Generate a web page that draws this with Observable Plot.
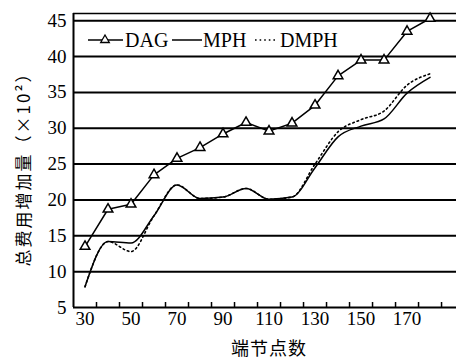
<!DOCTYPE html>
<html>
<head>
<meta charset="utf-8">
<script src="https://cdn.jsdelivr.net/npm/d3@7"></script>
<script src="https://cdn.jsdelivr.net/npm/@observablehq/plot@0.6"></script>
<style>
  html, body { margin: 0; padding: 0; background: #fff; }
  #wrap { position: relative; width: 456px; height: 359px; overflow: hidden; }
  #wrap svg.ov { position: absolute; left: 0; top: 0; }
</style>
</head>
<body>
<div id="wrap"></div>
<script>
const nodes = [30, 40, 50, 60, 70, 80, 90, 100, 110, 120, 130, 140, 150, 160, 170, 180];
const dag   = [13.5, 18.7, 19.4, 23.5, 25.8, 27.3, 29.2, 30.8, 29.6, 30.7, 33.2, 37.3, 39.5, 39.5, 43.5, 45.3];
const mph   = [7.9, 14.2, 14.0, 17.8, 22.1, 20.2, 20.4, 21.6, 20.1, 20.4, 24.5, 28.8, 30.3, 31.3, 34.9, 37.1];
const dmph  = [7.9, 14.2, 12.8, 17.8, 22.1, 20.2, 20.4, 21.6, 20.1, 20.4, 25.0, 29.5, 31.2, 32.4, 36.0, 37.6];
const yTicks = [5, 10, 15, 20, 25, 30, 35, 40, 45];
const xLabels = [30, 50, 70, 90, 110, 130, 150, 170];
const xTickMarks = [35, 45, 55, 65, 75, 85, 95, 105, 115, 125, 135, 145, 155, 165, 175, 185];
const xTitle = "端节点数";
const yTitle = "总费用增加量（×10²）";
const legendNames = ["DAG", "MPH", "DMPH"];

const rows = (vals) => nodes.map((n, i) => ({n, v: vals[i]}));
const serif = "'Liberation Serif', 'DejaVu Serif', serif";

const chart = Plot.plot({
  width: 456,
  height: 359,
  marginLeft: 73,
  marginRight: 0,
  marginTop: 13,
  marginBottom: 52,
  style: {fontFamily: serif, background: "#fff"},
  x: {type: "linear", domain: [25, 191.5]},
  y: {type: "linear", domain: [5, 46]},
  marks: [
    Plot.ruleY(yTicks, {stroke: "#000", strokeWidth: 2}),
    Plot.ruleY([46], {stroke: "#000", strokeWidth: 1.5}),
    Plot.ruleX([25], {stroke: "#000", strokeWidth: 2}),
    Plot.ruleX(xTickMarks, {y1: 5, y2: 5.7, stroke: "#000", strokeWidth: 1.5}),
    Plot.axisY({ticks: yTicks, tickSize: 0, tickPadding: 7, fontSize: 19, fontFamily: serif, label: null}),
    Plot.axisX({ticks: xLabels, tickSize: 0, tickPadding: 4, fontSize: 19, fontFamily: serif, label: null}),
    Plot.line(rows(dmph), {x: "n", y: "v", stroke: "#000", strokeWidth: 1.6, strokeDasharray: "1.6,3", curve: "monotone-x"}),
    Plot.line(rows(mph), {x: "n", y: "v", stroke: "#000", strokeWidth: 1.5, curve: "monotone-x"}),
    Plot.line(rows(dag), {x: "n", y: "v", stroke: "#000", strokeWidth: 1.5}),
    Plot.dot(rows(dag), {x: "n", y: "v", symbol: "triangle", r: 3.6, stroke: "#000", strokeWidth: 1.5, fill: "#fff"})
  ]
});

const wrap = document.getElementById("wrap");
wrap.appendChild(chart);

// overlay: titles and legend
const ov = d3.select(wrap).append("svg").attr("class", "ov")
  .attr("width", 456).attr("height", 359);

ov.append("text")
  .attr("x", 269).attr("y", 347)
  .attr("text-anchor", "middle").attr("dominant-baseline", "central")
  .attr("font-family", "'Noto Sans CJK SC', sans-serif").attr("font-size", 18)
  .attr("letter-spacing", 1)
  .text(xTitle);

ov.append("text")
  .attr("transform", "translate(22,165) rotate(-90)")
  .attr("text-anchor", "middle").attr("dominant-baseline", "central")
  .attr("font-family", "'Noto Sans CJK SC', sans-serif").attr("font-size", 17)
  .attr("letter-spacing", 2)
  .text(yTitle);

const lg = ov.append("g").attr("font-family", serif).attr("font-size", 20);
const ly = 40;
// DAG
lg.append("line").attr("x1", 88).attr("x2", 123).attr("y1", ly).attr("y2", ly).attr("stroke", "#000").attr("stroke-width", 1.5);
lg.append("path").attr("d", d3.symbol(d3.symbolTriangle, 32)()).attr("transform", `translate(105,${ly})`)
  .attr("fill", "#fff").attr("stroke", "#000").attr("stroke-width", 1.3);
lg.append("text").attr("x", 125).attr("y", ly).attr("dominant-baseline", "central").text(legendNames[0]);
// MPH
lg.append("line").attr("x1", 172).attr("x2", 202).attr("y1", ly).attr("y2", ly).attr("stroke", "#000").attr("stroke-width", 1.5);
lg.append("text").attr("x", 203).attr("y", ly).attr("dominant-baseline", "central").text(legendNames[1]);
// DMPH
lg.append("line").attr("x1", 255).attr("x2", 278).attr("y1", ly).attr("y2", ly).attr("stroke", "#000").attr("stroke-width", 1.6).attr("stroke-dasharray", "1.6,3");
lg.append("text").attr("x", 280).attr("y", ly).attr("dominant-baseline", "central").text(legendNames[2]);
</script>
</body>
</html>
